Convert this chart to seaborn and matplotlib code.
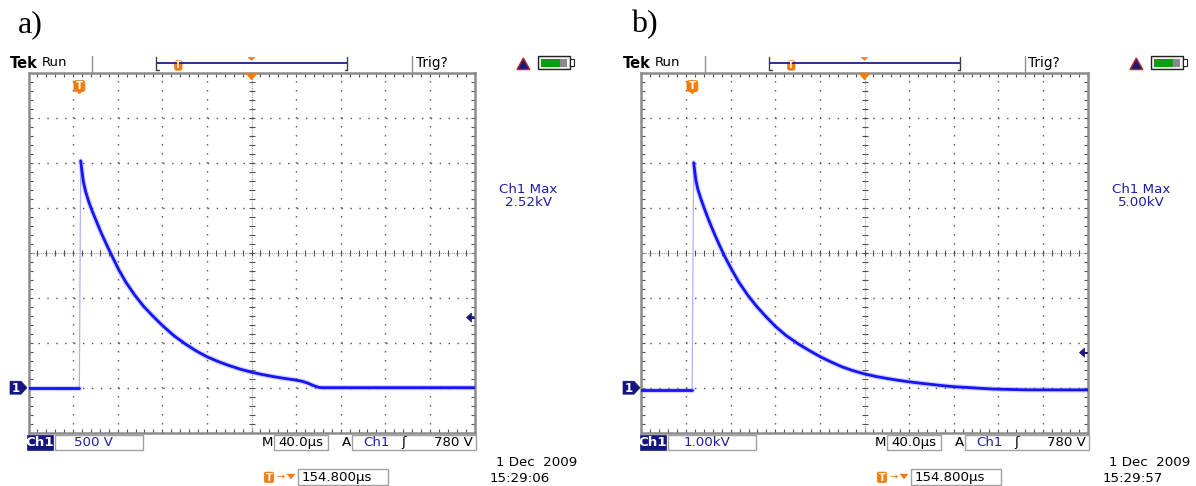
import numpy as np
import pandas as pd
import matplotlib
matplotlib.use("Agg")
import matplotlib.pyplot as plt
import seaborn as sns
from matplotlib.patches import Rectangle, Polygon, FancyBboxPatch
from matplotlib.transforms import blended_transform_factory

# ---------------- data (read from the two oscilloscope screens) ----------------
panel_labels = ["a)", "b)"]

# time in microseconds relative to the trigger point, voltage in volts
time_a = [-45.2, 0.4, 1.6, 2.5, 4.0, 6.0, 9.0, 12.0, 16.0, 20.0, 25.0, 30.0, 36.0,
          42.0, 50.0, 58.0, 66.0, 75.0, 85.0, 95.0, 105.0, 115.0, 125.0, 135.0,
          145.0, 155.0, 165.0, 175.0, 185.0, 193.0, 200.0, 205.0, 210.0, 215.0,
          218.0, 354.8]
volt_a = [0, 0, 2520, 2430, 2290, 2180, 2060, 1960, 1840, 1720, 1585, 1455, 1305,
          1175, 1030, 905, 800, 690, 580, 490, 410, 343, 290, 245,
          205, 172, 145, 122, 102, 88, 72, 52, 25, 4,
          0, 0]

time_b = [-45.2, 0.2, 1.6, 2.5, 3.5, 5.2, 8.0, 11.0, 15.0, 20.0, 25.0, 30.0, 36.0,
          42.0, 50.0, 58.0, 66.0, 75.0, 85.0, 95.0, 105.0, 115.0, 125.0, 135.0,
          145.0, 155.0, 165.0, 175.0, 185.0, 195.0, 205.0, 215.0, 225.0, 235.0,
          250.0, 270.0, 300.0, 354.8]
volt_b = [-60, -60, 5000, 4820, 4620, 4420, 4200, 3990, 3730, 3430, 3150, 2890, 2610,
          2350, 2060, 1810, 1590, 1360, 1150, 980, 830, 690, 570, 460,
          375, 305, 250, 205, 165, 130, 100, 72, 45, 22,
          0, -30, -48, -50]

volts_per_div = [500, 1000]
volts_per_div_text = ["500 V", "1.00kV"]
max_text = ["2.52kV", "5.00kV"]
time_per_div = 40.0
time_per_div_text = "40.0µs"
trigger_level = 780
trigger_level_text = "780 V"
trigger_delay = 154.8
trigger_delay_text = "154.800µs"
date_text = "1 Dec  2009"
clock_text = ["15:29:06", "15:29:57"]

traces = [(time_a, volt_a), (time_b, volt_b)]

# ---------------- style ----------------
sns.set_theme(style="white")
plt.rcParams['font.family'] = ['DejaVu Sans']

W, H = 1196, 486
fig = plt.figure(figsize=(W / 100, H / 100), dpi=100)
fig.patch.set_facecolor("white")

NAVY = "#15157f"
NAVY_TXT = "#1e1ea6"
ORANGE = "#f27c0e"
TRACE = "#1414f5"
HALO = "#7d7dff"
FAINT = "#b0b0ff"
FRAME = "#8c8c8c"
BOXEDGE = "#a0a0a0"
FS = 9.6

ov = fig.add_axes([0, 0, 1, 1], zorder=10)
ov.set_xlim(0, W)
ov.set_ylim(H, 0)
ov.axis("off")
ov.patch.set_alpha(0)

AX_LEFT, AX_TOP, AX_W, AX_H = 28.5, 72.7, 446.0, 360.0
DX = 613.0


def to_px(ax, x, y, trans=None):
    t = trans if trans is not None else ax.transData
    d = t.transform((x, y))
    return d[0], H - d[1]


def tmarker(cx, cy, w, h, fs):
    ov.add_patch(FancyBboxPatch((cx - w / 2, cy - h / 2), w, h,
                                boxstyle="round,pad=0,rounding_size=2",
                                fc=ORANGE, ec=ORANGE, lw=0.5))
    ov.text(cx, cy + 0.3, "T", color="white", fontsize=fs, fontweight="bold",
            ha="center", va="center")


for i in range(2):
    dx = DX * i
    ax = fig.add_axes([(AX_LEFT + dx) / W, (H - AX_TOP - AX_H) / H, AX_W / W, AX_H / H])
    vdiv = volts_per_div[i]
    x0 = trigger_delay - 5 * time_per_div
    x1 = trigger_delay + 5 * time_per_div
    ax.set_xlim(x0, x1)
    ax.set_ylim(-1 * vdiv, 7 * vdiv)
    ax.set_facecolor("white")

    # graticule
    gx = x0 + time_per_div * np.arange(0, 11)
    gy = -vdiv + vdiv * np.arange(0, 9)
    mx = x0 + time_per_div / 5 * np.arange(0, 51)
    my = -vdiv + vdiv / 5 * np.arange(0, 41)
    for k in range(1, 10):
        if k == 5:
            continue
        ax.axvline(gx[k], color="#505050", lw=1.0, ls=(0, (1.0, 5.48)), zorder=1)
    for k in range(1, 8):
        if k == 4:
            continue
        ax.axhline(gy[k], color="#505050", lw=1.0, ls=(0, (1.0, 5.42)), zorder=1)
    cxv = gx[5]
    cyv = gy[4]
    ax.axvline(cxv, color="#a0a0a0", lw=0.8, ls=(0, (1.0, 1.0)), zorder=1)
    ax.axhline(cyv, color="#a0a0a0", lw=0.8, ls=(0, (1.0, 1.0)), zorder=1)
    ax.plot(mx, np.full(len(mx), cyv), ls="none", marker="|", ms=4, mew=0.8,
            color="#505050", zorder=1)
    ax.plot(np.full(len(my), cxv), my, ls="none", marker="_", ms=4, mew=0.8,
            color="#505050", zorder=1)

    ax.set_xticks(gx)
    ax.set_xticks(mx, minor=True)
    ax.set_yticks(gy)
    ax.set_yticks(my, minor=True)
    ax.tick_params(which="both", direction="in", length=3, width=0.8, colors="#505050",
                   top=True, right=True, bottom=True, left=True,
                   labelbottom=False, labelleft=False, labeltop=False, labelright=False)
    for s in ax.spines.values():
        s.set_color(FRAME)
        s.set_linewidth(1.8)
        s.set_visible(True)

    # trace
    t, v = traces[i]
    df = pd.DataFrame({"t": t, "v": v})
    ipk = int(np.argmax(df["v"].values))
    sns.lineplot(data=df, x="t", y="v", ax=ax, sort=False, estimator=None,
                 color=FAINT, lw=0.9, zorder=3)
    for seg in (df.iloc[:ipk], df.iloc[ipk:]):
        sns.lineplot(data=seg, x="t", y="v", ax=ax, sort=False, estimator=None,
                     color=HALO, lw=3.8, alpha=0.35, zorder=4)
        sns.lineplot(data=seg, x="t", y="v", ax=ax, sort=False, estimator=None,
                     color=TRACE, lw=2.0, zorder=5)
    ax.set_xlabel("")
    ax.set_ylabel("")

    # ----- markers tied to data -----
    bt = blended_transform_factory(ax.transAxes, ax.transData)
    _, gy_px = to_px(ax, 0, 0, bt)
    ov.add_patch(Polygon([(10 + dx, gy_px - 6.5), (21 + dx, gy_px - 6.5), (27 + dx, gy_px),
                          (21 + dx, gy_px + 6.5), (10 + dx, gy_px + 6.5)],
                         closed=True, fc=NAVY, ec=NAVY, lw=0.5))
    ov.text(16 + dx, gy_px + 0.3, "1", color="white", fontsize=8.5, fontweight="bold",
            ha="center", va="center")
    _, tl_px = to_px(ax, 0, trigger_level, bt)
    rx = AX_LEFT + AX_W + dx
    ov.add_patch(Polygon([(rx - 8, tl_px), (rx - 3, tl_px - 4.5), (rx - 3, tl_px + 4.5)],
                         closed=True, fc=NAVY, ec=NAVY, lw=0.5))
    ov.plot([rx - 4, rx - 0.5], [tl_px, tl_px], color=NAVY, lw=1.5)

    trig_x, _ = to_px(ax, 0, 0)
    tmarker(trig_x + 0.5, 86.0, 11, 11, 7.5)
    ov.add_patch(Polygon([(trig_x - 2.5, 91.2), (trig_x + 3.5, 91.2), (trig_x + 0.5, 94)],
                         closed=True, fc=ORANGE, ec=ORANGE, lw=0.3))
    cen_x, _ = to_px(ax, cxv, 0)
    ov.add_patch(Polygon([(cen_x - 6, 73), (cen_x + 6, 73), (cen_x, 80)],
                         closed=True, fc=ORANGE, ec=ORANGE, lw=0.3))

    # ----- top status bar -----
    ov.text(18 + dx, 32.5, panel_labels[i], fontfamily="Liberation Serif", fontsize=23,
            ha="left", va="baseline", color="black")
    ov.text(10 + dx, 63, "Tek", fontweight="bold", fontsize=10.5, ha="left", va="center",
            color="black")
    ov.text(41.5 + dx, 63, "Run", fontsize=9.5, ha="left", va="center", color="black")
    ov.plot([92.3 + dx] * 2, [56.5, 72], color="#909090", lw=1)
    ov.plot([156 + dx, 156 + dx], [57, 70], color="#404040", lw=1)
    ov.plot([156 + dx, 158.5 + dx], [70, 70], color="#404040", lw=1)
    ov.plot([157 + dx, 347 + dx], [63.3, 63.3], color="#1e1e8c", lw=1.3)
    ov.plot([347 + dx, 347 + dx], [57, 70], color="#404040", lw=1)
    ov.plot([344.5 + dx, 347 + dx], [70, 70], color="#404040", lw=1)
    tmarker(178.3 + dx, 65.5, 7.5, 9.5, 6)
    ov.add_patch(Polygon([(cen_x - 3.5, 57.3), (cen_x + 3.5, 57.3), (cen_x, 60.5)],
                         closed=True, fc=ORANGE, ec=ORANGE, lw=0.3))
    ov.plot([411.7 + dx] * 2, [56.5, 72], color="#909090", lw=1)
    ov.text(415.5 + dx, 63, "Trig?", fontsize=9.8, ha="left", va="center", color="black")
    ov.add_patch(Polygon([(517 + dx, 69.5), (523.3 + dx, 58), (529.8 + dx, 69.5)],
                         closed=True, fc="#1a1a7a", ec="#c02828", lw=1.0))
    ov.add_patch(Rectangle((538.3 + dx, 56.3), 31.7, 13, fc="#f4f4f4", ec="#202020", lw=1))
    ov.add_patch(Rectangle((540.7 + dx, 59), 19.5, 7.7, fc="#0da00d", ec="none"))
    ov.add_patch(Rectangle((560.2 + dx, 59), 7, 7.7, fc="#8a8a8a", ec="none"))
    ov.add_patch(Rectangle((570 + dx, 59.5), 3.5, 6.5, fc="white", ec="#202020", lw=0.8))

    # ----- measurement readout -----
    ov.text(528 + dx, 189, "Ch1 Max", color=NAVY_TXT, fontsize=FS, ha="center",
            va="center")
    ov.text(528 + dx, 202.5, max_text[i], color=NAVY_TXT, fontsize=FS, ha="center",
            va="center")

    # ----- bottom status rows -----
    ov.add_patch(Rectangle((26.7 + dx, 435), 26.6, 15, fc=NAVY, ec=NAVY, lw=0.5))
    ov.text(40 + dx, 442.8, "Ch1", color="white", fontsize=FS, fontweight="bold",
            ha="center", va="center")
    ov.add_patch(Rectangle((55 + dx, 435), 87.7, 15, fc="white", ec=BOXEDGE, lw=1))
    ov.text(93.5 + dx, 442.8, volts_per_div_text[i], color=NAVY_TXT, fontsize=FS,
            ha="center", va="center")
    ov.text(267.5 + dx, 442.8, "M", color="black", fontsize=FS, ha="center", va="center")
    ov.add_patch(Rectangle((274 + dx, 435), 53.5, 15, fc="white", ec=BOXEDGE, lw=1))
    ov.text(301 + dx, 442.8, time_per_div_text, color="black", fontsize=FS,
            ha="center", va="center")
    ov.text(346 + dx, 442.8, "A", color="black", fontsize=FS, ha="center", va="center")
    ov.add_patch(Rectangle((352 + dx, 435), 124, 15, fc="white", ec=BOXEDGE, lw=1))
    ov.text(363 + dx, 442.8, "Ch1", color=NAVY_TXT, fontsize=FS, ha="left", va="center")
    ov.text(403.5 + dx, 442.8, "ʃ", color="black", fontsize=FS, ha="center", va="center")
    ov.text(473 + dx, 442.8, trigger_level_text, color="black", fontsize=FS, ha="right",
            va="center")

    tmarker(269 + dx, 477.3, 9.5, 10.5, 7)
    ov.text(281 + dx, 477.3, "→", color=ORANGE, fontsize=7, ha="center", va="center")
    ov.add_patch(Polygon([(287 + dx, 474), (295 + dx, 474), (291 + dx, 479)],
                         closed=True, fc=ORANGE, ec=ORANGE, lw=0.3))
    ov.add_patch(Rectangle((297.5 + dx, 469), 90, 15.5, fc="white", ec=BOXEDGE, lw=1))
    ov.text(301.5 + dx, 477.3, trigger_delay_text, color="black", fontsize=FS,
            ha="left", va="center")

    ov.text(577 + dx, 462, date_text, color="black", fontsize=FS, ha="right", va="center")
    ov.text(489.5 + dx, 478.5, clock_text[i], color="black", fontsize=FS, ha="left",
            va="center")

fig.savefig("out.png", dpi=100)
